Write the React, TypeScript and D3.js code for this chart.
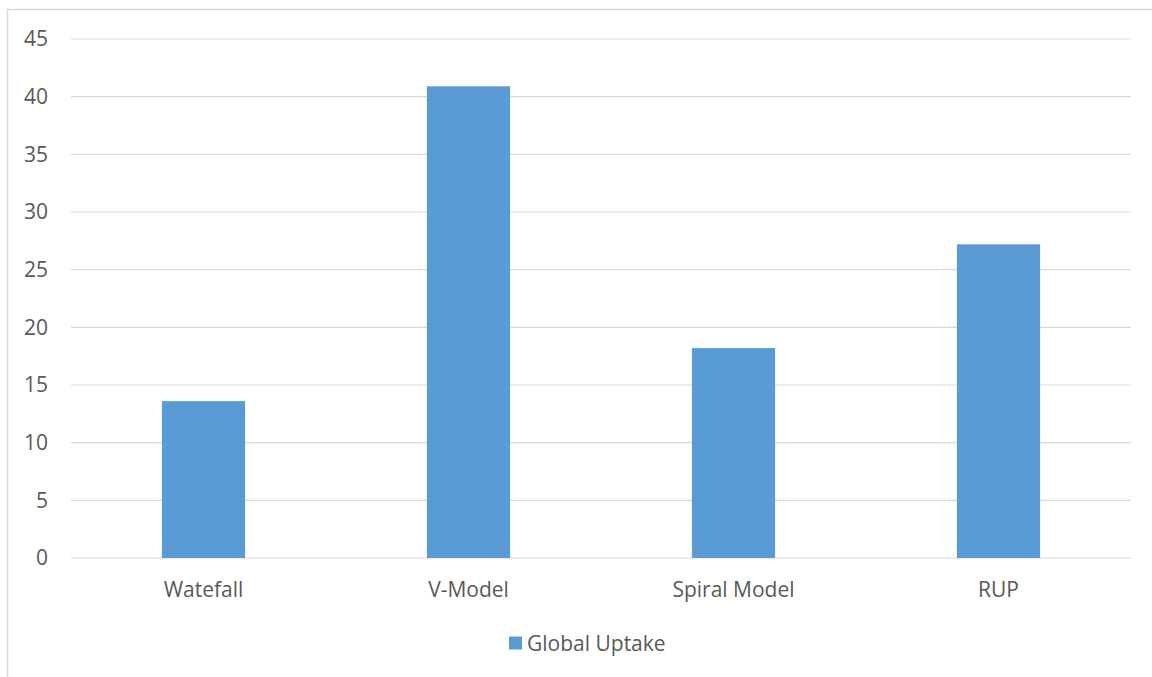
import React, { useEffect, useRef } from "react";
import * as d3 from "d3";

const categories = ["Watefall", "V-Model", "Spiral Model", "RUP"];
const uptake = [13.6, 40.9, 18.2, 27.2];
const yTicks = [0, 5, 10, 15, 20, 25, 30, 35, 40, 45];
const seriesName = "Global Uptake";

const App = () => {
  const svgRef = useRef<SVGSVGElement>(null);

  useEffect(() => {
    const w = 1152;
    const h = 677;
    const svg = d3.select(svgRef.current);
    svg.selectAll("*").remove();
    svg.attr("width", w).attr("height", h);

    const font = "'Open Sans', sans-serif";
    const textColor = "#595959";
    const fs = 21;

    svg
      .append("rect")
      .attr("x", 7.5)
      .attr("y", 9.5)
      .attr("width", w + 10)
      .attr("height", h + 10)
      .attr("fill", "white")
      .attr("stroke", "#d9d9d9")
      .attr("stroke-width", 1.5);

    const x = d3.scaleBand().domain(categories).range([71, 1131]).padding(0);
    const y = d3.scaleLinear().domain([0, 45]).range([558, 39]);

    svg
      .append("g")
      .selectAll("line")
      .data(yTicks)
      .join("line")
      .attr("x1", 71)
      .attr("x2", 1131)
      .attr("y1", (d) => y(d))
      .attr("y2", (d) => y(d))
      .attr("stroke", "#d9d9d9")
      .attr("stroke-width", 1.2);

    svg
      .append("g")
      .selectAll("text")
      .data(yTicks)
      .join("text")
      .attr("x", 48)
      .attr("y", (d) => y(d))
      .attr("dy", "0.35em")
      .attr("text-anchor", "end")
      .attr("font-family", font)
      .attr("font-size", fs)
      .attr("fill", textColor)
      .text((d) => d);

    const bw = x.bandwidth() * 0.314;
    svg
      .append("g")
      .selectAll("rect")
      .data(uptake)
      .join("rect")
      .attr("x", (d, i) => x(categories[i])! + x.bandwidth() / 2 - bw / 2)
      .attr("y", (d) => y(d))
      .attr("width", bw)
      .attr("height", (d) => y(0) - y(d))
      .attr("fill", "#5b9bd5");

    svg
      .append("g")
      .selectAll("text")
      .data(categories)
      .join("text")
      .attr("x", (d) => x(d)! + x.bandwidth() / 2)
      .attr("y", 590)
      .attr("dy", "0.35em")
      .attr("text-anchor", "middle")
      .attr("font-family", font)
      .attr("font-size", fs)
      .attr("fill", textColor)
      .text((d) => d);

    const legend = svg.append("g");
    legend
      .append("rect")
      .attr("x", 509)
      .attr("y", 636.5)
      .attr("width", 13)
      .attr("height", 13)
      .attr("fill", "#5b9bd5");
    legend
      .append("text")
      .attr("x", 527)
      .attr("y", 644)
      .attr("dy", "0.35em")
      .attr("font-family", font)
      .attr("font-size", fs)
      .attr("fill", textColor)
      .text(seriesName);
  }, []);

  return (
    <div style={{ position: "absolute", left: 0, top: 0, overflow: "hidden", width: 1152, height: 677 }}>
      <svg ref={svgRef}></svg>
    </div>
  );
};

export default App;
